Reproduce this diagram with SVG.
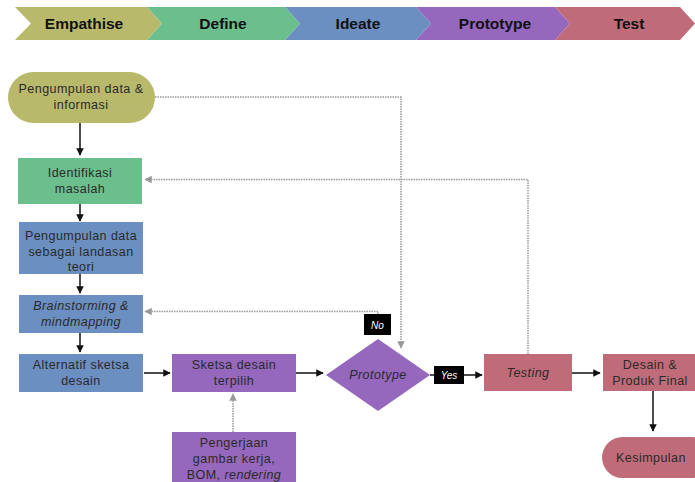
<svg xmlns="http://www.w3.org/2000/svg" width="695" height="482" viewBox="0 0 695 482">
<defs>
<marker id="ah" viewBox="0 0 10 10" refX="9" refY="5" markerWidth="5" markerHeight="5" orient="auto"><path d="M0,0 L10,5 L0,10 z" fill="#111"/></marker>
<marker id="ag" viewBox="0 0 10 10" refX="9" refY="5" markerWidth="5" markerHeight="5" orient="auto"><path d="M0,0 L10,5 L0,10 z" fill="#999"/></marker>
</defs>
<style>
text{font-family:"Liberation Sans",Arial,sans-serif;font-size:12.5px;fill:#2a2a2a;text-anchor:middle;letter-spacing:0.45px}
.h{font-weight:bold;font-size:15.5px;fill:#111;letter-spacing:0}
.i{font-style:italic}
.lbl{fill:#fff;font-size:10px;font-style:italic;letter-spacing:0}
.ln{stroke:#111;stroke-width:1.5;fill:none;marker-end:url(#ah)}
.dt{stroke:#999;stroke-width:1.5;fill:none;stroke-dasharray:1.5 1}
.olive{fill:#b9b96b}.green{fill:#6bbf8d}.blue{fill:#6b8fc0}.purple{fill:#9567bd}.rose{fill:#c06b79}
</style>
<rect width="695" height="482" fill="#fff"/>
<g id="header">
<polygon class="olive" points="15,7 147,7 162,23.5 147,40 15,40 31,23.5"/>
<polygon class="green" points="147,7 285,7 300,23.5 285,40 147,40 162,23.5"/>
<polygon class="blue" points="285,7 416,7 431,23.5 416,40 285,40 300,23.5"/>
<polygon class="purple" points="416,7 555,7 570,23.5 555,40 416,40 431,23.5"/>
<polygon class="rose" points="555,7 680,7 695,23.5 680,40 555,40 570,23.5"/>
<text class="h" x="84" y="29">Empathise</text>
<text class="h" x="223" y="29">Define</text>
<text class="h" x="358" y="29">Ideate</text>
<text class="h" x="495" y="29">Prototype</text>
<text class="h" x="629" y="29">Test</text>
</g>
<g id="connectors">
<line class="ln" x1="80" y1="123" x2="80" y2="155"/>
<line class="ln" x1="80" y1="204" x2="80" y2="221"/>
<line class="ln" x1="80" y1="274" x2="80" y2="293"/>
<line class="ln" x1="80" y1="333" x2="80" y2="352"/>
<line class="ln" x1="144" y1="373" x2="170" y2="373"/>
<line class="ln" x1="296" y1="373" x2="323" y2="373"/>
<line stroke="#111" stroke-width="1.5" x1="430" y1="375" x2="435" y2="375"/>
<line class="ln" x1="464" y1="375" x2="482" y2="375"/>
<line class="ln" x1="572" y1="373" x2="600" y2="373"/>
<line class="ln" x1="653" y1="391" x2="653" y2="431"/>
<path class="dt" d="M155,97 H401 V348" marker-end="url(#ag)"/>
<path class="dt" d="M528,354 V179.5 H145" marker-end="url(#ag)"/>
<path class="dt" d="M378,314 V311.5 H145" marker-end="url(#ag)"/>
<path class="dt" d="M233,432 V394" marker-end="url(#ag)"/>
</g>
<g id="n1"><rect class="olive" x="8" y="72" width="147" height="51" rx="25.5"/><text x="81" y="93">Pengumpulan data &amp;</text><text x="81" y="109">informasi</text></g>
<g id="n2"><rect class="green" x="18" y="158" width="124" height="46"/><text x="80" y="177">Identifikasi</text><text x="80" y="193">masalah</text></g>
<g id="n3"><rect class="blue" x="19" y="222" width="124" height="52"/><text x="81" y="240">Pengumpulan data</text><text x="81" y="256">sebagai landasan</text><text x="81" y="271">teori</text></g>
<g id="n4"><rect class="blue" x="19" y="295" width="124" height="38"/><text class="i" x="81" y="310">Brainstorming &amp;</text><text class="i" x="81" y="326">mindmapping</text></g>
<g id="n5"><rect class="blue" x="19" y="354" width="124" height="38"/><text x="81" y="369">Alternatif sketsa</text><text x="81" y="385">desain</text></g>
<g id="n6"><rect class="purple" x="172" y="354" width="124" height="38"/><text x="234" y="369">Sketsa desain</text><text x="234" y="385">terpilih</text></g>
<g id="n7"><rect class="purple" x="172" y="432" width="124" height="52"/><text x="234" y="447">Pengerjaan</text><text x="234" y="463">gambar kerja,</text><text x="234" y="479">BOM, <tspan class="i">rendering</tspan></text></g>
<g id="n8"><polygon class="purple" points="378,339 430,375 378,411 326,375"/><text class="i" x="378" y="379">Prototype</text></g>
<g id="no"><rect x="364" y="314" width="27" height="21" fill="#000"/><text class="lbl" x="377.5" y="328.5">No</text></g>
<g id="yes"><rect x="434" y="366" width="30" height="18" fill="#000"/><text class="lbl" x="449" y="378.5">Yes</text></g>
<g id="n9"><rect class="rose" x="484" y="354" width="88" height="37"/><text class="i" x="528" y="377">Testing</text></g>
<g id="n10"><rect class="rose" x="603" y="354" width="100" height="37"/><text x="650" y="369">Desain &amp;</text><text x="650" y="385">Produk Final</text></g>
<g id="n11"><rect class="rose" x="602" y="437" width="110" height="41" rx="20.5"/><text x="651" y="462">Kesimpulan</text></g>
</svg>
